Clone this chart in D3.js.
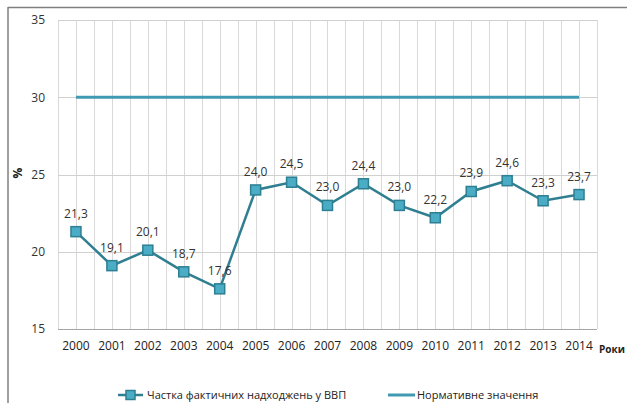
<!DOCTYPE html>
<html><head><meta charset="utf-8">
<script src="https://cdn.jsdelivr.net/npm/d3@7"></script>
<style>body{margin:0;background:#fff;}svg{display:block;font-family:"Open Sans",sans-serif;}</style>
</head><body><svg id="c" width="627" height="403"></svg>
<script>
const years = ["2000","2001","2002","2003","2004","2005","2006","2007","2008","2009","2010","2011","2012","2013","2014"];
const shareValues = [21.3,19.1,20.1,18.7,17.6,24.0,24.5,23.0,24.4,23.0,22.2,23.9,24.6,23.3,23.7];
const normValues = [30,30,30,30,30,30,30,30,30,30,30,30,30,30,30];
const yTicks = [15,20,25,30,35];
const seriesNames = ["Частка фактичних надходжень у ВВП","Нормативне значення"];

const svg = d3.select("#c");
const L=58, R=597, T=20, B=329;
const x = d3.scaleBand().domain(years).range([L,R]);
const y = d3.scaleLinear().domain([15,35]).range([B,T]);
const cx = d=>x(d)+x.bandwidth()/2;

// outer frame (top & left)
svg.append("line").attr("x1",8).attr("x2",627).attr("y1",7.5).attr("y2",7.5).attr("stroke","#7f7f7f").attr("stroke-width",1.5);
svg.append("line").attr("x1",8).attr("x2",8).attr("y1",7).attr("y2",403).attr("stroke","#7f7f7f").attr("stroke-width",1.5);

// vertical gridlines at band edges and centers
const vx=[];
years.forEach(d=>{vx.push(x(d)); vx.push(cx(d));});
vx.push(R);
svg.append("g").selectAll("line").data(vx).join("line")
  .attr("x1",d=>Math.round(d)+0.5).attr("x2",d=>Math.round(d)+0.5).attr("y1",T).attr("y2",B)
  .attr("stroke","#d9d9d9").attr("stroke-width",1);
// horizontal gridlines
svg.append("g").selectAll("line").data(yTicks).join("line")
  .attr("x1",L).attr("x2",R).attr("y1",d=>Math.round(y(d))+0.5).attr("y2",d=>Math.round(y(d))+0.5)
  .attr("stroke",d=>d===15?"#a6a6a6":"#d0d0d0").attr("stroke-width",1);

// y axis labels
const yAxis = d3.axisLeft(y).tickValues(yTicks).tickSize(0).tickPadding(13);
const gy = svg.append("g").attr("transform",`translate(${L},0)`).call(yAxis);
gy.select(".domain").remove();
gy.selectAll("text").attr("font-size",12).attr("fill","#333").attr("font-family","Open Sans");

// x axis labels
const xAxis = d3.axisBottom(x).tickSize(0).tickPadding(12);
const gx = svg.append("g").attr("transform",`translate(0,${B})`).call(xAxis);
gx.select(".domain").remove();
gx.selectAll("text").attr("font-size",12).attr("fill","#222").attr("font-family","Open Sans");

// axis titles
svg.append("text").attr("transform","translate(22,173) rotate(-90)").attr("text-anchor","middle")
  .attr("font-size",12).attr("font-weight","bold").attr("fill","#222").text("%");
svg.append("text").attr("x",599).attr("y",353).attr("font-size",10).attr("font-weight","bold").attr("fill","#222").text("Роки");

// normative line
svg.append("path").datum(normValues)
  .attr("d",d3.line().x((d,i)=>cx(years[i])).y(d=>y(d)))
  .attr("fill","none").attr("stroke","#3f9ab2").attr("stroke-width",3);

// share line
svg.append("path").datum(shareValues)
  .attr("d",d3.line().x((d,i)=>cx(years[i])).y(d=>y(d)))
  .attr("fill","none").attr("stroke","#2f7f91").attr("stroke-width",2.5);
svg.append("g").selectAll("rect").data(shareValues).join("rect")
  .attr("x",(d,i)=>cx(years[i])-5).attr("y",d=>y(d)-5).attr("width",10).attr("height",10)
  .attr("fill","#4bacc6").attr("stroke","#2d7f92").attr("stroke-width",1.5);
svg.append("g").selectAll("text").data(shareValues).join("text")
  .attr("x",(d,i)=>cx(years[i])).attr("y",d=>y(d)-14).attr("text-anchor","middle")
  .attr("font-size",12).attr("fill","#333")
  .text(d=>d.toFixed(1).replace(".",","));

// legend
const lg = svg.append("g");
lg.append("line").attr("x1",118).attr("x2",143).attr("y1",395).attr("y2",395).attr("stroke","#2f7f91").attr("stroke-width",2.5);
lg.append("rect").attr("x",126).attr("y",390.5).attr("width",9).attr("height",9).attr("fill","#4bacc6").attr("stroke","#2d7f92").attr("stroke-width",1.5);
lg.append("text").attr("x",147).attr("y",399).attr("font-size",11).attr("fill","#222").text(seriesNames[0]);
lg.append("line").attr("x1",388).attr("x2",415).attr("y1",395).attr("y2",395).attr("stroke","#3f9ab2").attr("stroke-width",3);
lg.append("text").attr("x",417).attr("y",399).attr("font-size",11).attr("fill","#222").text(seriesNames[1]);
</script></body></html>
